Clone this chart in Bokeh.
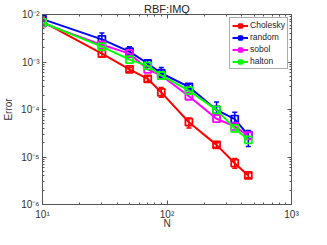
from bokeh.plotting import figure
from bokeh.models import (ColumnDataSource, Whisker, TeeHead, LogAxis, Legend, LegendItem,
                          FixedTicker, Range1d, Label)
from bokeh.embed import file_html
from bokeh.resources import INLINE

# ---- data ----
N = [10, 30, 50, 70, 90, 150, 250, 350, 450]
chol = [7.1e-3, 1.5e-3, 7.0e-4, 4.4e-4, 2.3e-4, 5.4e-5, 1.8e-5, 7.4e-6, 4.1e-6]
chol_lo = [6.8e-3, 1.27e-3, 6.3e-4, 3.9e-4, 1.8e-4, 4.1e-5, 1.6e-5, 5.8e-6, 3.7e-6]
chol_hi = [7.5e-3, 1.74e-3, 7.7e-4, 5.0e-4, 2.9e-4, 6.6e-5, 2.0e-5, 9.3e-6, 4.6e-6]
rand = [8.0e-3, 3.0e-3, 1.66e-3, 9.3e-4, 5.8e-4, 3.0e-4, 9.8e-5, 6.3e-5, 2.9e-5]
rand_lo = [6.6e-3, 2.38e-3, 1.38e-3, 8.2e-4, 4.6e-4, 2.7e-4, 7.7e-5, 5.0e-5, 1.66e-5]
rand_hi = [1.05e-2, 4.1e-3, 2.1e-3, 1.09e-3, 7.7e-4, 3.4e-4, 1.43e-4, 8.7e-5, 3.6e-5]
sobol = [6.6e-3, 2.3e-3, 1.5e-3, 7.0e-4, 5.2e-4, 1.9e-4, 6.4e-5, 4.4e-5, 2.8e-5]
halton = [6.8e-3, 2.1e-3, 1.12e-3, 8.3e-4, 5.2e-4, 2.5e-4, 9.8e-5, 4.0e-5, 2.3e-5]

x_ticks = [10, 100, 1000]
x_labels = ["10¹", "10²", "10³"]
y_ticks = [1e-6, 1e-5, 1e-4, 1e-3, 1e-2]
y_labels = ["10⁻⁶", "10⁻⁵", "10⁻⁴", "10⁻³", "10⁻²"]

FONT = "Liberation Sans"
AX = "#555555"
TXT = "#333333"

p = figure(width=311, height=229, x_axis_type="log", y_axis_type="log",
           x_range=Range1d(10, 1000), y_range=Range1d(1e-6, 1e-2),
           output_backend="svg", toolbar_location=None,
           min_border_left=38, min_border_right=20, min_border_bottom=25, min_border_top=0)
p.title.text = "RBF:IMQ"
p.title.align = "center"
p.title.text_font = FONT
p.title.text_font_size = "11px"
p.title.text_font_style = "normal"
p.title.text_color = "#222222"
p.title.standoff = 0
p.title.offset = 0

p.xgrid.visible = False
p.ygrid.visible = False
p.outline_line_color = AX
p.background_fill_color = "white"
p.border_fill_color = "white"

def style_axis(ax, show_labels=True):
    ax.axis_line_color = AX
    ax.major_tick_line_color = AX
    ax.minor_tick_line_color = AX
    ax.major_tick_in = 4
    ax.major_tick_out = 0
    ax.minor_tick_in = 2
    ax.minor_tick_out = 0
    ax.major_label_text_font = FONT
    ax.major_label_text_font_size = "10px" if show_labels else "0px"
    ax.major_label_text_color = TXT
    ax.axis_label_text_font = FONT
    ax.axis_label_text_font_size = "10px"
    ax.axis_label_text_font_style = "normal"
    ax.axis_label_text_color = TXT
    if not show_labels:
        ax.major_label_standoff = 0
        ax.axis_label_standoff = 0

xa = p.xaxis[0]
ya = p.yaxis[0]
style_axis(xa)
style_axis(ya)
xa.ticker = FixedTicker(ticks=x_ticks, minor_ticks=[v * m for v in [10, 100] for m in range(2, 10)])
xa.major_label_overrides = dict(zip(x_ticks, x_labels))
xa.major_label_standoff = 4
ya.ticker = FixedTicker(ticks=y_ticks, minor_ticks=[v * m for v in y_ticks[:-1] for m in range(2, 10)])
ya.major_label_overrides = {t: l for t, l in zip(y_ticks, y_labels)}
ya.major_label_standoff = 3
ya.axis_label = "Error"
ya.axis_label_standoff = 4

top = LogAxis(ticker=FixedTicker(ticks=x_ticks, minor_ticks=xa.ticker.minor_ticks))
style_axis(top, False)
top.major_label_overrides = {t: "" for t in x_ticks}
p.add_layout(top, "above")
right = LogAxis(ticker=FixedTicker(ticks=y_ticks, minor_ticks=ya.ticker.minor_ticks))
style_axis(right, False)
right.major_label_overrides = {t: "" for t in y_ticks}
p.add_layout(right, "right")

# x-axis title: a text label hosted in the right side panel, drawn below the frame
p.add_layout(Label(x=100, y=-19, x_units="data", y_units="screen", text="N",
                   text_font=FONT, text_font_size="10px", text_color=TXT,
                   text_align="center", text_baseline="middle"), "right")

series = [("Cholesky", chol, "#ff0000", chol_lo, chol_hi),
          ("random", rand, "#0000ff", rand_lo, rand_hi),
          ("sobol", sobol, "#ff00ff", None, None),
          ("halton", halton, "#00ff00", None, None)]

items = []
for name, vals, col, lo, hi in series:
    src = ColumnDataSource(dict(x=N, y=vals))
    r1 = p.line("x", "y", source=src, line_color=col, line_width=2)
    r2 = p.scatter("x", "y", source=src, marker="square", size=7, fill_color=None,
                   line_color=col, line_width=1.8)
    if lo is not None:
        wsrc = ColumnDataSource(dict(x=N, lo=lo, hi=hi))
        w = Whisker(base="x", lower="lo", upper="hi", source=wsrc, dimension="height",
                    line_color=col, line_width=1.5,
                    upper_head=TeeHead(size=5, line_color=col, line_width=1.5),
                    lower_head=TeeHead(size=5, line_color=col, line_width=1.5))
        p.add_layout(w)
    items.append(LegendItem(label=name, renderers=[r1, r2]))

leg = Legend(items=items, location="top_right")
leg.label_text_font = FONT
leg.label_text_font_size = "8.5px"
leg.label_text_color = "#222222"
leg.label_height = 9
leg.glyph_height = 9
leg.glyph_width = 16
leg.spacing = 2
leg.padding = 2
leg.margin = 3
leg.label_standoff = 2
leg.border_line_color = AX
leg.background_fill_alpha = 1
p.add_layout(leg)

open("out.html", "w").write(file_html(p, INLINE))
